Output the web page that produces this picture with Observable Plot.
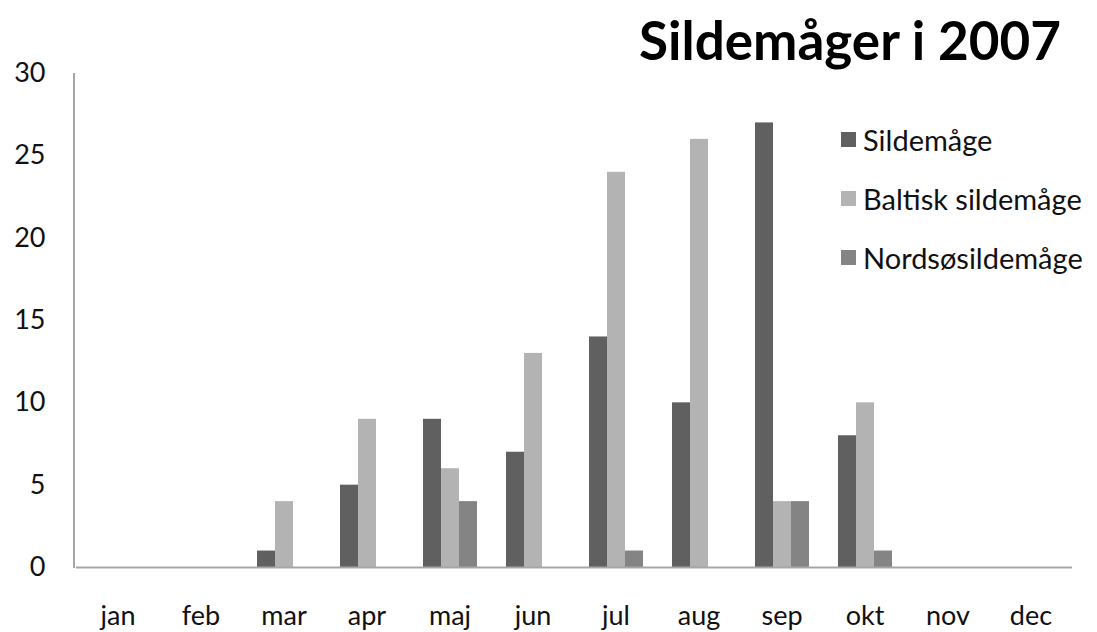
<!DOCTYPE html>
<html><head><meta charset="utf-8">
<script src="https://cdn.jsdelivr.net/npm/d3@7"></script>
<script src="https://cdn.jsdelivr.net/npm/@observablehq/plot@0.6"></script>
<style>
body{margin:0;background:#fff;}
#wrap{position:relative;width:1097px;height:632px;font-family:Lato,sans-serif;color:#111;}
#title{position:absolute;right:36px;top:13px;font-weight:bold;font-size:53px;line-height:1;color:#000;white-space:nowrap;}
#legend{position:absolute;left:841px;top:110px;font-size:29px;}
.item{display:flex;align-items:center;height:59px;white-space:nowrap;}
.sw{width:15px;height:15px;margin-right:7px;}
#chart{position:absolute;left:0;top:0;}
</style></head>
<body><div id="wrap"><div id="chart"></div><div id="title">Sildemåger i 2007</div><div id="legend"></div></div>
<script>
const months = ["jan","feb","mar","apr","maj","jun","jul","aug","sep","okt","nov","dec"];
const series = ["Sildemåge","Baltisk sildemåge","Nordsøsildemåge"];
const sildemaage = [0,0,1,5,9,7,14,10,27,8,0,0];
const baltisk    = [0,0,4,9,6,13,24,26,4,10,0,0];
const nordsoe    = [0,0,0,0,4,0,1,0,4,1,0,0];
const colors = ["#606060","#b3b3b3","#848484"];
const yTicks = [0,5,10,15,20,25,30];

const values = [sildemaage, baltisk, nordsoe];
const rows = [];
months.forEach((m,i) => series.forEach((s,j) => {
  rows.push({month:m, series:s, value:values[j][i]});
}));

const plot = Plot.plot({
  width: 1097, height: 632,
  marginLeft: 74, marginRight: 24, marginTop: 73, marginBottom: 65,
  style: {fontFamily: "Lato, sans-serif", fontSize: "27px", color: "#111", background: "transparent"},
  fx: {domain: months, padding: 0, axis: "bottom", tickSize: 0, tickPadding: 38, label: null},
  x: {domain: series, paddingInner: 0, paddingOuter: 0.75, axis: null},
  y: {domain: [0,30], ticks: yTicks, tickSize: 0, tickPadding: 31, label: null},
  color: {domain: series, range: colors},
  marks: [
    Plot.barY(rows, {fx: "month", x: "series", y: "value", fill: "series"}),
    Plot.ruleY([0], {stroke: "#a6a6a6", strokeWidth: 2})
  ]
});
document.getElementById("chart").appendChild(plot);

// left axis line through the plot's own scales
const ys = plot.scale("y");
d3.select(plot).append("line")
  .attr("x1", 74).attr("x2", 74)
  .attr("y1", ys.apply(30)).attr("y2", ys.apply(0) + 1)
  .attr("stroke", "#a6a6a6").attr("stroke-width", 2);

const leg = d3.select("#legend");
series.forEach((s,j) => {
  const it = leg.append("div").attr("class","item");
  it.append("div").attr("class","sw").style("background", colors[j]);
  it.append("span").text(s);
});
</script></body></html>
